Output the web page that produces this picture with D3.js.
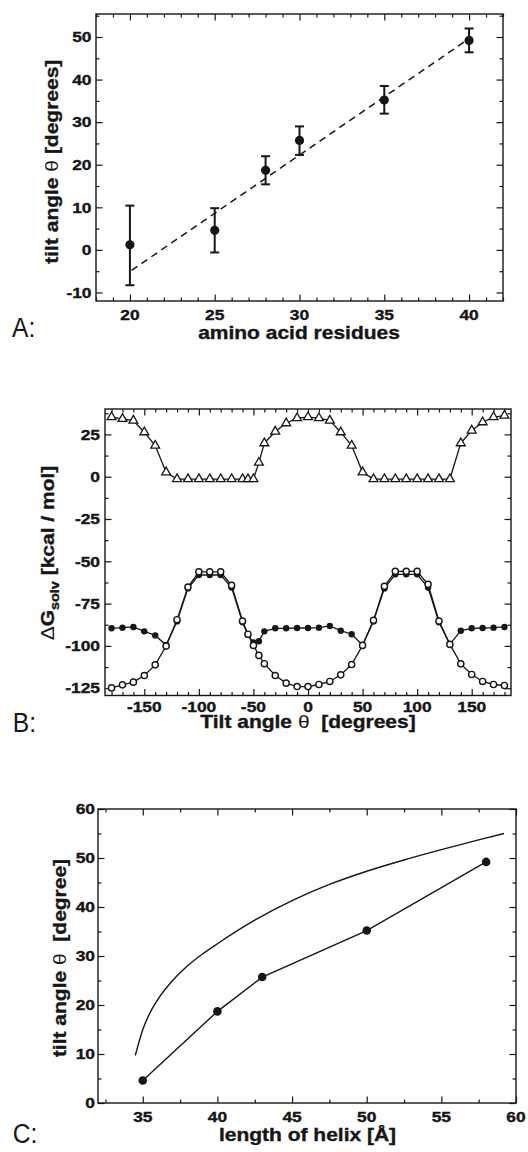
<!DOCTYPE html>
<html>
<head>
<meta charset="utf-8">
<script src="https://cdn.jsdelivr.net/npm/d3@7"></script>
<style>
  html, body { margin: 0; padding: 0; background: #fff; }
  svg { display: block; }
</style>
</head>
<body>
<div id="chart"></div>
<script>
// Panel A: tilt angle vs number of residues
const residues = [20, 25, 28, 30, 35, 40];
const tiltA = [1.2, 4.6, 18.7, 25.7, 35.2, 49.2];
const errLow = [-8.3, -0.6, 15.4, 22.3, 32.0, 46.4];
const errHigh = [10.4, 9.8, 22.0, 29.0, 38.5, 52.0];
const fitX = [20.1, 39.7];
const fitY = [-4.8, 48.8];

// Panel B: solvation free energy vs tilt angle
const angles = [-180, -170, -160, -150, -140, -130, -120, -110, -100, -90, -80, -70, -60, -55, -50, -45,
                -40, -30, -20, -10, 0, 10, 20, 30, 40, 50, 60, 70, 80, 90, 100, 110, 120, 130, 140, 150, 160, 170, 180];
const dgTriangle = [35.2, 34.2, 33.2, 26.3, 18.4, 2.6, -1.4, -1.4, -1.4, -1.4, -1.4, -1.4, -1.4, -1.4, -1.4, 8.3,
                    19.8, 26.7, 31.6, 34.6, 35.2, 34.6, 33.2, 26.3, 18.4, 2.6, -1.4, -1.4, -1.4, -1.4, -1.4, -1.4, -1.4, -1.4, 19.8, 27.3, 32.2, 35.2, 36.1];
const dgOpen = [-124.8, -123, -121.4, -117.5, -111.2, -100.1, -84.5, -65.2, -56.2, -56.2, -56.2, -64.2, -85.3, -93.1, -99.7, -105.6,
                -110.5, -117.5, -122, -124, -124, -122.8, -121, -117.1, -111, -99.7, -84.9, -64.8, -55.9, -55.9, -55.9, -63.6, -85.3, -99.1, -110.6, -116.9, -121, -122.8, -123.4];
const dgFilled = [-89.6, -89.2, -88.8, -91.4, -93.8, -99.5, -85.5, -66, -58.1, -58.1, -58.1, -65.5, -86, -93.5, -98, -97.2,
                  -91.4, -89.6, -89.6, -89.4, -89.4, -89.2, -88.2, -91, -93.1, -99.5, -85.5, -66, -57.7, -57.7, -57.7, -65.5, -86, -99.1, -91, -89.6, -89.4, -89.2, -88.8];

// Panel C: tilt angle vs helix length
const helixLength = [35, 40, 43, 50, 58];
const tiltC = [4.6, 18.7, 25.7, 35.2, 49.2];
const curveX = [34.5, 35.0, 35.5, 36.0, 37.0, 38.0, 39.0, 40.0, 42.5, 45.0, 47.5, 50.0, 52.5, 55.0, 57.5, 59.2];
const curveY = [9.7, 15.0, 18.5, 21.1, 25.0, 28.0, 30.4, 32.5, 37.3, 41.3, 44.6, 47.3, 49.6, 51.7, 53.7, 55.0];

// tick labels
const ticksAX = [20, 25, 30, 35, 40];
const ticksAY = [-10, 0, 10, 20, 30, 40, 50];
const ticksBX = [-150, -100, -50, 0, 50, 100, 150];
const ticksBY = [-125, -100, -75, -50, -25, 0, 25];
const ticksCX = [35, 40, 45, 50, 55, 60];
const ticksCY = [0, 10, 20, 30, 40, 50, 60];

const FONT = "'Liberation Sans', Arial, Helvetica, sans-serif";
const INK = "#161616";
const NBSP = "\u00a0";

const svg = d3.select("#chart").append("svg")
    .attr("width", 528)
    .attr("height", 1152);

// text with a horizontal stretch (the original typeface is wide and heavy)
function txt(parent, x, y, s, o = {}) {
    const t = parent.append("text")
        .attr("transform", `translate(${x},${y}) rotate(${o.rotate || 0}) scale(${o.sx || 1},1)`)
        .attr("text-anchor", o.anchor || "middle")
        .attr("fill", INK)
        .attr("stroke", INK)
        .attr("stroke-width", o.weight === "normal" ? 0 : 0.35)
        .style("font-family", FONT)
        .style("font-size", (o.size || 14) + "px")
        .style("font-weight", o.weight || "bold");
    if (o.dy) t.attr("dy", o.dy);
    if (s !== null) t.text(s);
    return t;
}

function minors(lo, hi, step, major) {
    return d3.range(lo, hi + step / 2, step).filter(v => !major.some(m => Math.abs(m - v) < 1e-6));
}

// frame with inward ticks on all four sides
function frame(g, x, y, box, t) {
    const sides = [
        [d3.axisBottom, `translate(0,${box.bottom})`, x, t.xMajor, t.xMinor],
        [d3.axisTop, `translate(0,${box.top})`, x, t.xMajor, t.xMinor],
        [d3.axisLeft, `translate(${box.left},0)`, y, t.yMajor, t.yMinor],
        [d3.axisRight, `translate(${box.right},0)`, y, t.yMajor, t.yMinor]
    ];
    sides.forEach(([ax, tr, sc, maj, mnr]) => {
        [[maj, 6.5], [mnr, 3.5]].forEach(([vals, len]) => {
            const a = g.append("g")
                .attr("transform", tr)
                .call(ax(sc).tickValues(vals).tickSize(-len).tickFormat(""));
            a.select(".domain").remove();
            a.selectAll("line").attr("stroke", INK).attr("stroke-width", 1.2);
        });
    });
    g.append("rect")
        .attr("x", box.left)
        .attr("y", box.top)
        .attr("width", box.right - box.left)
        .attr("height", box.bottom - box.top)
        .attr("fill", "none")
        .attr("stroke", INK)
        .attr("stroke-width", 1.4);
}

function tickLabels(g, x, y, box, xt, yt, o) {
    xt.forEach(v => txt(g, x(v), box.bottom + o.xOff, String(v), { size: 14.5, sx: 1.2 }));
    yt.forEach(v => txt(g, box.left - o.yOff, y(v), String(v), { size: 14.5, sx: 1.2, anchor: "end", dy: "0.36em" }));
}

// ---------- Panel A ----------
{
    const box = { left: 96, top: 14, right: 503, bottom: 301 };
    const x = d3.scaleLinear().domain([18, 42]).range([box.left, box.right]);
    const y = d3.scaleLinear().domain([-12, 55.4]).range([box.bottom, box.top]);
    const g = svg.append("g");

    frame(g, x, y, box, {
        xMajor: ticksAX, xMinor: minors(18, 42, 1, ticksAX),
        yMajor: ticksAY, yMinor: minors(-10, 55, 5, ticksAY)
    });

    g.append("path")
        .datum(fitX.map((v, i) => [v, fitY[i]]))
        .attr("fill", "none")
        .attr("stroke", INK)
        .attr("stroke-width", 1.5)
        .attr("stroke-dasharray", "7,5")
        .attr("d", d3.line().x(d => x(d[0])).y(d => y(d[1])));

    const pts = residues.map((r, i) => ({ r, v: tiltA[i], lo: errLow[i], hi: errHigh[i] }));
    const eb = g.selectAll(".eb").data(pts).enter().append("g");
    eb.append("line")
        .attr("x1", d => x(d.r)).attr("x2", d => x(d.r))
        .attr("y1", d => y(d.lo)).attr("y2", d => y(d.hi))
        .attr("stroke", INK).attr("stroke-width", 2);
    ["lo", "hi"].forEach(k => {
        eb.append("line")
            .attr("x1", d => x(d.r) - 4.5).attr("x2", d => x(d.r) + 4.5)
            .attr("y1", d => y(d[k])).attr("y2", d => y(d[k]))
            .attr("stroke", INK).attr("stroke-width", 2);
    });
    eb.append("circle")
        .attr("cx", d => x(d.r))
        .attr("cy", d => y(d.v))
        .attr("r", 4.6)
        .attr("fill", INK);

    tickLabels(g, x, y, box, ticksAX, ticksAY, { xOff: 18.5, yOff: 4.5 });

    txt(g, 299, 339, "amino acid residues", { size: 17.5, sx: 1.2 });
    const yl = txt(g, 58, 161.7, null, { size: 17.5, sx: 1.2, rotate: -90 });
    yl.append("tspan").text("tilt angle ");
    yl.append("tspan").style("font-weight", "normal").attr("stroke-width", 0).text("θ");
    yl.append("tspan").text(" [degrees]");

    txt(g, 12, 337, "A:", { size: 28, sx: 0.88, weight: "normal", anchor: "start" });
}

// ---------- Panel B ----------
{
    const box = { left: 105, top: 409, right: 511, bottom: 695.5 };
    const x = d3.scaleLinear().domain([-186, 186]).range([box.left, box.right]);
    const y = d3.scaleLinear().domain([-129.3, 40]).range([box.bottom, box.top]);
    const g = svg.append("g");

    frame(g, x, y, box, {
        xMajor: ticksBX, xMinor: minors(-180, 180, 10, ticksBX),
        yMajor: ticksBY, yMinor: minors(-125, 37.5, 12.5, ticksBY)
    });

    const line = d3.line().x(d => x(d[0])).y(d => y(d[1]));
    const series = [dgFilled, dgOpen, dgTriangle].map(s => angles.map((a, i) => [a, s[i]]));

    series.forEach(s => {
        g.append("path")
            .datum(s)
            .attr("fill", "none")
            .attr("stroke", INK)
            .attr("stroke-width", 1.3)
            .attr("d", line);
    });

    g.selectAll(".filled").data(series[0]).enter().append("circle")
        .attr("cx", d => x(d[0])).attr("cy", d => y(d[1]))
        .attr("r", 3.2).attr("fill", INK);

    g.selectAll(".open").data(series[1]).enter().append("circle")
        .attr("cx", d => x(d[0])).attr("cy", d => y(d[1]))
        .attr("r", 3.1).attr("fill", "#fff")
        .attr("stroke", INK).attr("stroke-width", 1.4);

    const tri = d3.symbol().type(d3.symbolTriangle).size(34);
    g.selectAll(".tri").data(series[2]).enter().append("path")
        .attr("transform", d => `translate(${x(d[0])},${y(d[1])})`)
        .attr("d", tri)
        .attr("fill", "#fff")
        .attr("stroke", INK)
        .attr("stroke-width", 1.3);

    tickLabels(g, x, y, box, ticksBX, ticksBY, { xOff: 16.5, yOff: 5 });

    const xl = txt(g, 308, 728, null, { size: 17.5, sx: 1.2 });
    xl.append("tspan").text("Tilt angle ");
    xl.append("tspan").style("font-weight", "normal").attr("stroke-width", 0).text("θ");
    xl.append("tspan").text(NBSP + NBSP + "[degrees]");

    const yl = txt(g, 54, 553, null, { size: 17.5, sx: 1.2, rotate: -90 });
    yl.append("tspan").style("font-weight", "normal").attr("stroke-width", 0).text("Δ");
    yl.append("tspan").text("G");
    yl.append("tspan").attr("dy", 5).style("font-size", "12px").text("solv");
    yl.append("tspan").attr("dy", -5).text(" [kcal / mol]");

    txt(g, 12.7, 732, "B:", { size: 28, sx: 0.88, weight: "normal", anchor: "start" });
}

// ---------- Panel C ----------
{
    const box = { left: 98, top: 809, right: 516, bottom: 1103 };
    const x = d3.scaleLinear().domain([32, 60]).range([box.left, box.right]);
    const y = d3.scaleLinear().domain([0, 60]).range([box.bottom, box.top]);
    const g = svg.append("g");

    frame(g, x, y, box, {
        xMajor: ticksCX, xMinor: minors(32.5, 60, 2.5, ticksCX),
        yMajor: ticksCY, yMinor: minors(0, 60, 5, ticksCY)
    });

    g.append("path")
        .datum(curveX.map((v, i) => [v, curveY[i]]))
        .attr("fill", "none")
        .attr("stroke", INK)
        .attr("stroke-width", 1.4)
        .attr("d", d3.line().x(d => x(d[0])).y(d => y(d[1])).curve(d3.curveMonotoneX));

    const pts = helixLength.map((h, i) => [h, tiltC[i]]);
    g.append("path")
        .datum(pts)
        .attr("fill", "none")
        .attr("stroke", INK)
        .attr("stroke-width", 1.4)
        .attr("d", d3.line().x(d => x(d[0])).y(d => y(d[1])));

    g.selectAll(".pt").data(pts).enter().append("circle")
        .attr("cx", d => x(d[0])).attr("cy", d => y(d[1]))
        .attr("r", 4.3).attr("fill", INK);

    tickLabels(g, x, y, box, ticksCX, ticksCY, { xOff: 19, yOff: 3 });

    txt(g, 307.5, 1141, "length of helix [Å]", { size: 17.5, sx: 1.2 });
    const yl = txt(g, 66, 958, null, { size: 17.5, sx: 1.2, rotate: -90 });
    yl.append("tspan").text("tilt angle ");
    yl.append("tspan").style("font-weight", "normal").attr("stroke-width", 0).text("θ");
    yl.append("tspan").text(NBSP + NBSP + "[degree]");

    txt(g, 12.7, 1143, "C:", { size: 28, sx: 0.88, weight: "normal", anchor: "start" });
}
</script>
</body>
</html>
